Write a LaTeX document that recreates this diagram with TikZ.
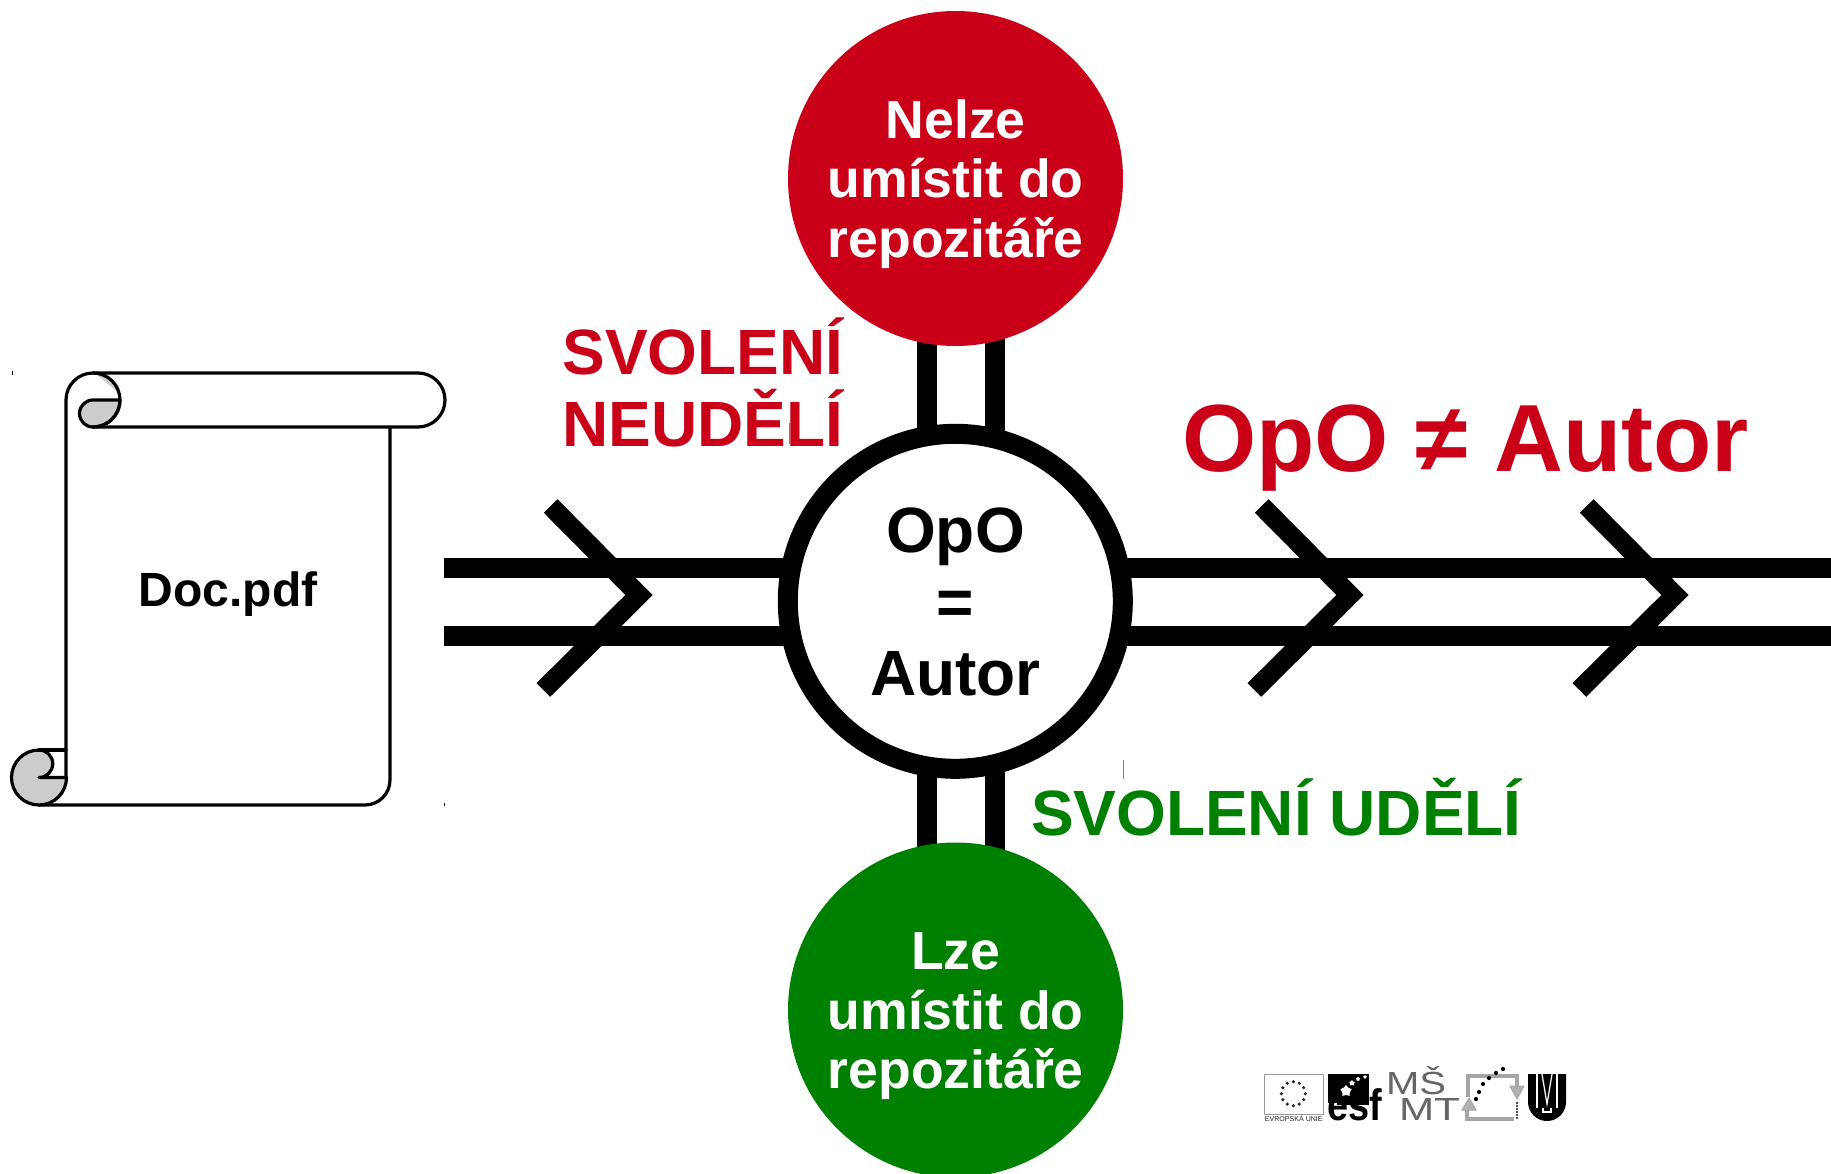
\documentclass[tikz,border=0pt]{standalone}
\usepackage{fontspec}
\setmainfont{Liberation Sans}
\usetikzlibrary{shapes.geometric,calc}
\definecolor{myred}{HTML}{C90018}
\definecolor{mygreen}{HTML}{008000}
\definecolor{scrollgrey}{HTML}{CCCCCC}
\newcommand{\fsz}[1]{\fontsize{#1}{#1}\selectfont\bfseries}
\newcommand{\R}[1]{#1*0.75pt}
\tikzset{
  bar/.style={line width=15pt,draw=black},
  chev/.style={line width=14.5pt,draw=black,miter limit=10},
  scrollline/.style={line width=2.4pt,draw=black,line cap=round,line join=round},
  tickmark/.style={line width=0.75pt,draw=#1},
  txt/.style={inner sep=0pt,outer sep=0pt,anchor=base,align=center},
  lbl/.style={inner sep=0pt,outer sep=0pt,anchor=base west},
  logotxt/.style={inner sep=0pt,outer sep=0pt,anchor=base west,text=black!60,font=\fontsize{24}{24}\selectfont},
  logogrey/.style={draw=black!35,line width=3.4pt},
  logotri/.style={fill=black!30,draw=black!35,line width=0.75pt},
}
\begin{document}
\begin{tikzpicture}[x=0.75pt,y=-0.75pt]
\useasboundingbox (0,0) rectangle (1831,1174);
\path[fill=white] (0,0) rectangle (1831,1174);
% named points
\coordinate (hl1) at (444,568.3); \coordinate (hl2) at (444,636);
\coordinate (hr1) at (1831,568.3); \coordinate (hr2) at (1831,636);
\coordinate (c) at (955.3,601.3);
\draw[bar] (hl1) -- (hr1);
\draw[bar] (hl2) -- (hr2);
\draw[bar] (927,300) -- (927,460);
\draw[bar] (995,300) -- (995,460);
\draw[bar] (927,740) -- (927,900);
\draw[bar] (995,740) -- (995,900);
% circles
\node[circle,fill=myred,inner sep=0pt,minimum size=251.25pt] (red) at (955.5,178.5) {};
\node[circle,fill=mygreen,inner sep=0pt,minimum size=251.25pt] (green) at (955.5,1010) {};
\node[circle,fill=white,draw=black,line width=15pt,inner sep=0pt,minimum size=251.25pt] (ring) at (c) {};
% chevrons
\draw[chev] (550.7,506) -- (639,595) -- (543.3,690);
\draw[chev] (1261.7,506) -- (1350,595) -- (1254.3,690);
\draw[chev] (1586.7,506) -- (1675,595) -- (1579.3,690);
% circle text
\node[txt,font=\fsz{40.2},text=white] at (955.7,138) {Nelze};
\node[txt,font=\fsz{40.2},text=white] at (955.7,197.5) {umístit do};
\node[txt,font=\fsz{40.2},text=white] at (955.7,257) {repozitáře};
\node[txt,font=\fsz{40.2},text=white] at (955.7,969) {Lze};
\node[txt,font=\fsz{40.2},text=white] at (955.7,1029) {umístit do};
\node[txt,font=\fsz{40.2},text=white] at (955.7,1088) {repozitáře};
\node[txt,font=\fsz{48}] at (955.5,552) {OpO};
\node[txt,font=\fsz{48}] at (955.5,624) {=};
\node[txt,font=\fsz{48}] at (955.5,695) {Autor};
\node[lbl,font=\fsz{48},text=myred] at (562.5,374) {SVOLENÍ};
\node[lbl,font=\fsz{48},text=myred] at (562.5,446) {NEUDĚLÍ};
\node[lbl,font=\fsz{48},text=mygreen] at (1031,835.5) {SVOLENÍ UDĚLÍ};
\node[lbl,font=\fsz{71.6},text=myred] at (1182,471) {OpO ≠ Autor};
% scroll
\fill[white] (66,400) rectangle (390,780);
\draw[scrollline,fill=white] (93,373) -- (418,373) arc[start angle=90,end angle=-90,radius=\R{27}] -- (93,427);
\draw[scrollline] (66,778) -- (66,400) arc[start angle=180,end angle=90,radius=\R{27}];
\draw[scrollline] (390,427) -- (390,780) arc[start angle=0,end angle=-90,radius=\R{25}] -- (39,805);
% upper curl
\fill[scrollgrey] (95,373) arc[start angle=85,end angle=15,radius=\R{27}] -- cycle;
\draw[scrollline,fill=scrollgrey] (120,400) -- (93,400) arc[start angle=90,end angle=270,radius=\R{13.5}] arc[start angle=-90,end angle=0,radius=\R{27}];
\draw[scrollline] (93,373) arc[start angle=90,end angle=-90,radius=\R{27}];
% lower curl
\draw[scrollline,fill=scrollgrey] (39,750) arc[start angle=90,end angle=270,radius=\R{27.5}] arc[start angle=-90,end angle=0,radius=\R{27.5}] -- (39,777.5) arc[start angle=-90,end angle=90,radius=\R{13.75}];
\draw[scrollline] (39,750) -- (66,750);
\node[txt,font=\fsz{36},text=black] at (228,606) {Doc.pdf};
% ticks
\draw[tickmark=black] (12.5,371) -- (12.5,375);
\draw[tickmark=black] (444.5,803) -- (444.5,806);
\draw[tickmark=gray] (789,423) -- (789,444);
\draw[tickmark=gray] (1123.5,760) -- (1123.5,779);
% logo EU
\draw[black!40,line width=0.75pt] (1264.7,1074.5) rectangle (1323,1114);
\foreach \a in {0,30,...,330}
  \fill[black!85] ($(1293.3,1093.7)+(\a:\R{12})$) circle (1.3pt);
\node[inner sep=0pt,font=\fontsize{5.3}{6}\selectfont,text=black!85] (eu) at (1293.8,1118) {EVROPSKÁ UNIE};
% logo esf
\fill[black] (1328,1074) rectangle (1369,1105);
\node[star,star points=5,fill=white,inner sep=0pt,minimum size=9pt] (s1) at (1346,1091) {};
\node[star,star points=5,fill=white,inner sep=0pt,minimum size=4.5pt] (s2) at (1352,1083) {};
\node[star,star points=5,fill=white,inner sep=0pt,minimum size=3.5pt] (s3) at (1358,1079) {};
\node[star,star points=5,fill=white,inner sep=0pt,minimum size=3pt] (s4) at (1365,1077) {};
\fill[white] (1326,1103) rectangle (1337,1108);
\node[inner sep=0pt,anchor=base west,font=\fsz{33},xscale=0.86] (esf) at (1327,1120) {esf};
% logo MSMT
\node[logotxt,xscale=1.25] (ms) at (1386,1094.5) {MŠ};
\node[logotxt,xscale=1.32] (mt) at (1399,1120) {MT};
% logo arrows
\draw[logogrey] (1468,1097) -- (1468,1076) -- (1517,1076) -- (1517,1095);
\draw[logogrey] (1467,1108) -- (1467,1119) -- (1514,1119);
\fill[logotri] (1510,1086) -- (1524,1086) -- (1517,1099) -- cycle;
\fill[logotri] (1462,1110) -- (1476,1110) -- (1469,1098) -- cycle;
\draw[black!70,line width=2.2pt,dash pattern=on 1.5pt off 0.75pt] (1517,1102) -- (1517,1120);
\foreach \p in {(1476,1099),(1479,1092),(1483,1084),(1489,1078),(1496,1073),(1503,1069)}
  \fill[black] \p circle (1.6pt);
% logo MU
\fill[black] (1528,1074) -- (1566,1074) -- (1566,1102) arc[start angle=0,end angle=-180,radius=\R{19}] -- cycle;
\draw[white,line width=0.9pt] (1537,1074) -- (1537,1108);
\draw[white,line width=0.9pt] (1557,1074) -- (1557,1108);
\draw[white,line width=0.9pt] (1542,1074) -- (1547,1104) -- (1552,1074);
\draw[white,line width=0.9pt] (1543,1108) -- (1543,1112) -- (1551,1112) -- (1551,1108);
\end{tikzpicture}
\end{document}
